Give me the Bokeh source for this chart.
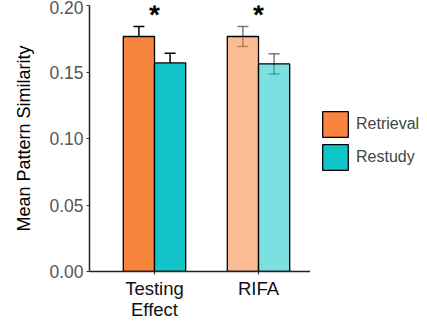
from bokeh.plotting import figure
from bokeh.layouts import row
from bokeh.models import (Range1d, FixedTicker, NumeralTickFormatter, Whisker,
                          TeeHead, ColumnDataSource, Legend, LegendItem)
from bokeh.core.properties import value
from bokeh.embed import file_html
from bokeh.resources import INLINE

categories = ["Testing\nEffect", "RIFA"]
series = ["Retrieval", "Restudy"]
retrieval = [0.1767, 0.1767]
restudy = [0.1568, 0.1561]
retrieval_err = [0.0076, 0.0076]
restudy_err = [0.0073, 0.0076]
significant = ["*", "*"]
y_ticks = [0.00, 0.05, 0.10, 0.15, 0.20]

colors = ["#F8853D", "#11C4C8"]
group_alpha = [1.0, 0.55]
err_alpha = [1.0, 0.5]
FONT = "Liberation Sans"

p = figure(frame_width=221, frame_height=266, x_range=Range1d(0.375, 2.5),
           y_range=Range1d(0, 0.2), output_backend="svg", toolbar_location=None,
           min_border_left=89, min_border_top=5, min_border_bottom=58,
           min_border_right=0, background_fill_color="white",
           border_fill_color="white", outline_line_color=None)
p.xgrid.visible = False
p.ygrid.visible = False

values = [retrieval, restudy]
errs = [retrieval_err, restudy_err]
offsets = [-0.15, 0.15]
for gi, cat in enumerate(categories):
    xc = gi + 1
    for si, name in enumerate(series):
        src = ColumnDataSource(dict(x=[xc + offsets[si]], top=[values[si][gi]],
                                    lo=[values[si][gi] - errs[si][gi]],
                                    hi=[values[si][gi] + errs[si][gi]]))
        p.vbar(x="x", top="top", bottom=0, width=0.3, source=src,
               fill_color=colors[si], fill_alpha=group_alpha[gi],
               line_color="black", line_width=1.3)
        w = Whisker(base="x", lower="lo", upper="hi", source=src,
                    line_color="black", line_width=1.5, line_alpha=err_alpha[gi],
                    upper_head=TeeHead(size=11, line_width=1.5, line_alpha=err_alpha[gi]),
                    lower_head=TeeHead(size=11, line_width=1.5, line_alpha=err_alpha[gi]))
        p.add_layout(w)

star_y = [max(retrieval[i] + retrieval_err[i], restudy[i] + restudy_err[i]) for i in range(len(categories))]
p.text(x=[i + 1 for i in range(len(categories))], y=star_y, text=significant,
       y_offset=-12, text_align="center", text_baseline="alphabetic",
       text_font_size="28px", text_font_style="bold", text_font=value(FONT),
       text_color="black")

# axes
p.yaxis.ticker = FixedTicker(ticks=y_ticks)
p.yaxis.formatter = NumeralTickFormatter(format="0.00")
p.yaxis.minor_tick_line_color = None
p.yaxis.major_tick_in = 0
p.yaxis.major_tick_out = 3
p.yaxis.axis_label = "Mean Pattern Similarity"
p.yaxis.axis_label_text_font_style = "normal"
p.yaxis.axis_label_text_font_size = "18px"
p.yaxis.axis_label_text_font = FONT
p.yaxis.axis_label_text_color = "black"
p.yaxis.axis_label_standoff = 12
p.yaxis.major_label_text_font = FONT
p.yaxis.major_label_text_font_size = "17.5px"
p.yaxis.major_label_text_color = "#555555"
p.yaxis.major_label_standoff = 3

p.xaxis.ticker = FixedTicker(ticks=[i + 1 for i in range(len(categories))])
p.xaxis.major_label_overrides = {i + 1: c for i, c in enumerate(categories)}
p.xaxis.minor_tick_line_color = None
p.xaxis.major_tick_in = 0
p.xaxis.major_tick_out = 3
p.xaxis.major_label_text_font = FONT
p.xaxis.major_label_text_font_size = "18.5px"
p.xaxis.major_label_text_color = "#111111"
p.xaxis.major_label_standoff = 3
p.xaxis.major_label_text_line_height = 1.0

for ax in (p.xaxis, p.yaxis):
    ax.axis_line_color = "#222222"
    ax.axis_line_width = 1.5
    ax.major_tick_line_color = "#333333"
    ax.major_tick_line_width = 1.2

# legend panel: zero-size proxy bars carry the legend styling only
pl = figure(width=117, height=329, x_range=Range1d(0, 1), y_range=Range1d(0, 1),
            output_backend="svg", toolbar_location=None, min_border=0,
            outline_line_color=None, background_fill_color="white",
            border_fill_color="white")
pl.axis.visible = False
pl.grid.visible = False
items = []
for si, name in enumerate(series):
    r = pl.vbar(x=[0.5], top=[0], bottom=[0], width=0, fill_color=colors[si],
                line_color="black", line_width=1.3)
    items.append(LegendItem(label=name, renderers=[r]))
legend = Legend(items=items, location=(7, 96), glyph_width=32, glyph_height=32,
                spacing=1, padding=2, margin=0, label_standoff=5,
                border_line_alpha=0, label_text_font=FONT,
                label_text_font_size="16px", background_fill_alpha=0)
pl.add_layout(legend, "center")

layout = row(p, pl, spacing=0)
open("out.html", "w").write(file_html(layout, INLINE))
